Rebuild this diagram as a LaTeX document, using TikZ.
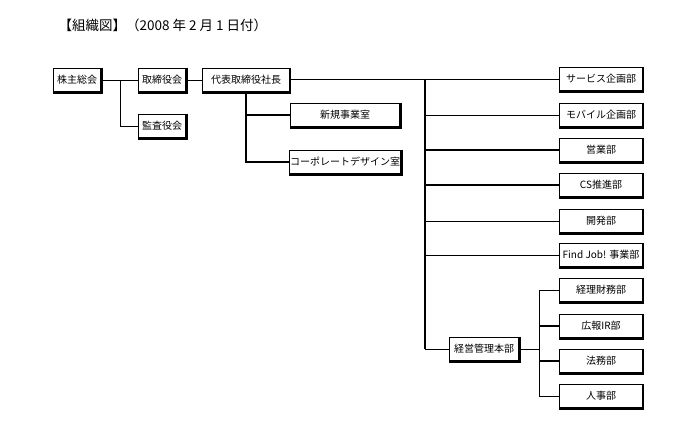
\documentclass[tikz,border=0pt]{standalone}
\usepackage{fontspec}
\setmainfont{Noto Sans CJK JP}
\usetikzlibrary{positioning}

\tikzset{
  org/.style={draw, line width=0.8pt, minimum height=24pt, inner sep=1pt,
    font=\fontsize{10}{12}\selectfont,
    append after command={\pgfextra{\draw[line width=2.4pt]
      (\tikzlastnode.north east) -- (\tikzlastnode.south east)
      -- (\tikzlastnode.south west);}}},
  link/.style={line width=0.8pt},
  bus/.style={line width=2.4pt},
}

\begin{document}
\begin{tikzpicture}[x=1pt,y=-1pt]
\useasboundingbox (0,0) rectangle (694,431);

\node[anchor=west, font=\fontsize{13.5}{15}\selectfont] (title) at (55,25) {【組織図】（2008 年 2 月 1 日付）};

% top row
\node[org, minimum width=48pt] (kabunushi) at (77,80) {株主総会};
\node[org, minimum width=48pt] (torishimari) at (162,80) {取締役会};
\node[org, minimum width=48pt] (kansa) at (162,126) {監査役会};
\node[org, minimum width=87pt] (shacho) at (246,80) {代表取締役社長};
\node[org, minimum width=110pt] (shinki) at (345,115) {新規事業室};
\node[org, minimum width=110pt] (corp) at (345,162) {コーポレートデザイン室};

% right column
\node[org, minimum width=83pt] (service) at (601,79) {サービス企画部};
\node[org, minimum width=83pt] (mobile) at (601,115) {モバイル企画部};
\node[org, minimum width=83pt] (eigyo) at (601,150) {営業部};
\node[org, minimum width=83pt] (cs) at (601,185) {CS推進部};
\node[org, minimum width=83pt] (kaihatsu) at (601,221) {開発部};
\node[org, minimum width=83pt] (findjob) at (601,255) {Find Job! 事業部};
\node[org, minimum width=70pt] (keiei) at (484,349) {経営管理本部};
\node[org, minimum width=83pt] (keiri) at (601,290) {経理財務部};
\node[org, minimum width=83pt] (koho) at (601,326) {広報IR部};
\node[org, minimum width=83pt] (homu) at (601,361) {法務部};
\node[org, minimum width=83pt] (jinji) at (601,396) {人事部};

% junctions
\coordinate (j1) at (120,80);
\coordinate (j2) at (shacho.south);
\coordinate (j3) at (425,79);
\coordinate (j4) at (539,349);

\draw[link] (kabunushi) -- (torishimari);
\draw[link] (j1) |- (kansa.west);
\draw[link] (torishimari) -- (shacho);
\draw[link] (shacho.east |- service.west) -- (service.west);

\draw[bus] (j2) |- (shinki.west);
\draw[bus] (j2) |- (corp.west);

\draw[bus] (j3) -- (j3 |- keiei.west);
\draw[link] (j3 |- keiei.west) -- (keiei.west);
\draw[link] (j3 |- mobile.west) -- (mobile.west);
\draw[bus] (j3 |- eigyo.west) -- (eigyo.west);
\draw[bus] (j3 |- cs.west) -- (cs.west);
\draw[link] (j3 |- kaihatsu.west) -- (kaihatsu.west);
\draw[link] (j3 |- findjob.west) -- (findjob.west);

\draw[link] (keiei.east) -- (j4);
\draw[link] (j4 |- keiri.west) -- (j4 |- jinji.west);
\draw[link] (j4 |- keiri.west) -- (keiri.west);
\draw[bus] (j4 |- koho.west) -- (koho.west);
\draw[bus] (j4 |- homu.west) -- (homu.west);
\draw[link] (j4 |- jinji.west) -- (jinji.west);
\end{tikzpicture}
\end{document}
